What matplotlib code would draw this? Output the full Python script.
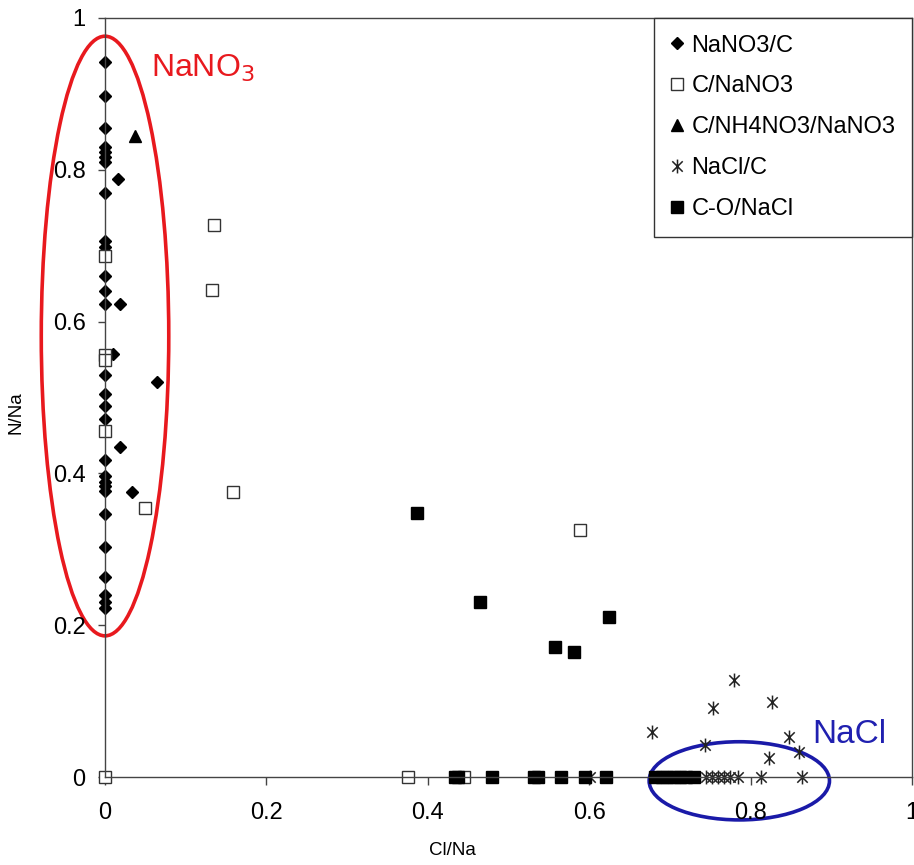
import matplotlib
matplotlib.use("Agg")
import matplotlib.pyplot as plt
from matplotlib.patches import Ellipse
from matplotlib.path import Path

plt.rcParams['font.family'] = ['Liberation Sans', 'DejaVu Sans']

# NaNO3/C (diamonds)
nano3_c_x = [0] * 29 + [0.016, 0.0185, 0.01, 0.064, 0.0185, 0.033]
nano3_c_y = [0.942, 0.897, 0.855, 0.830, 0.823, 0.817, 0.810, 0.770, 0.706,
             0.698, 0.660, 0.640, 0.623, 0.553, 0.529, 0.505, 0.489, 0.472,
             0.418, 0.397, 0.389, 0.384, 0.377, 0.346, 0.303, 0.264, 0.240,
             0.231, 0.223,
             0.788, 0.623, 0.557, 0.521, 0.435, 0.376]

# C/NaNO3 (open squares)
c_nano3_x = [0, 0, 0, 0, 0, 0.135, 0.133, 0.158, 0.05, 0.589, 0.375, 0.445]
c_nano3_y = [0.686, 0.556, 0.549, 0.456, 0, 0.727, 0.642, 0.376, 0.355, 0.326, 0, 0]

# C/NH4NO3/NaNO3 (triangle)
c_nh4_x = [0.037]
c_nh4_y = [0.844]

# NaCl/C (asterisks)
nacl_c_x = [0.780, 0.754, 0.827, 0.678, 0.847, 0.744, 0.860, 0.823,
            0.601, 0.745, 0.752, 0.760, 0.767, 0.775, 0.785, 0.813, 0.864]
nacl_c_y = [0.128, 0.091, 0.099, 0.059, 0.053, 0.042, 0.033, 0.025,
            0, 0, 0, 0, 0, 0, 0, 0, 0]

# C-O/NaCl (filled squares)
co_nacl_x = [0.387, 0.465, 0.558, 0.581, 0.625,
             0.434, 0.438, 0.480, 0.532, 0.537, 0.565, 0.595, 0.621,
             0.682, 0.690, 0.697, 0.705, 0.712, 0.720, 0.730]
co_nacl_y = [0.348, 0.231, 0.171, 0.165, 0.211] + [0] * 15

ticks = [0, 0.2, 0.4, 0.6, 0.8, 1]
tick_labels = ['0', '0.2', '0.4', '0.6', '0.8', '1']

# asterisk: vertical bar plus an x
star = Path([(0, -1), (0, 1), (-0.75, -0.75), (0.75, 0.75), (-0.75, 0.75), (0.75, -0.75)],
            [Path.MOVETO, Path.LINETO, Path.MOVETO, Path.LINETO, Path.MOVETO, Path.LINETO])

fig = plt.figure(figsize=(9.14, 8.65), dpi=100)
ax = fig.add_axes([0.1149, 0.1017, 0.8829, 0.8775])

kw = dict(linestyle='none', clip_on=False)
ax.plot(nano3_c_x, nano3_c_y, marker='D', ms=6.3, color='black', label='NaNO3/C', **kw)
ax.plot(c_nano3_x, c_nano3_y, marker='s', ms=8.3, mfc='white', mec='#333333', mew=1.0,
        label='C/NaNO3', **kw)
ax.plot(c_nh4_x, c_nh4_y, marker='^', ms=9, color='black', label='C/NH4NO3/NaNO3', **kw)
ax.plot(nacl_c_x, nacl_c_y, marker=star, ms=10, mec='#222222', mew=1.1, mfc='none',
        label='NaCl/C', **kw)
ax.plot(co_nacl_x, co_nacl_y, marker='s', ms=8.3, color='black', label='C-O/NaCl', **kw)

ax.add_patch(Ellipse((0, 0.581), 0.158, 0.79, fill=False, edgecolor='#e8191e',
                     lw=2.6, clip_on=False))
ax.add_patch(Ellipse((0.786, -0.005), 0.2235, 0.103, fill=False, edgecolor='#1a1aa8',
                     lw=2.6, clip_on=False))
ax.text(0.057, 0.923, 'NaNO$_3$', color='#e8191e', fontsize=23)
ax.text(0.877, 0.045, 'NaCl', color='#2020b0', fontsize=24)

ax.set_xlim(0, 1)
ax.set_ylim(0, 1)
ax.set_xticks(ticks)
ax.set_xticklabels(tick_labels)
ax.set_yticks(ticks)
ax.set_yticklabels(tick_labels)
ax.tick_params(axis='x', direction='out', length=6, width=1, labelsize=17, pad=12, color='#444444')
ax.tick_params(axis='y', direction='out', length=5, width=1, labelsize=17, pad=9, color='#444444')
for s in ax.spines.values():
    s.set_color('#444444')
    s.set_linewidth(1.0)

ax.set_xlabel('Cl/Na', fontsize=13.5)
ax.set_ylabel('N/Na', fontsize=13.5)
ax.xaxis.set_label_coords(0.43, -0.085)
ax.yaxis.set_label_coords(-0.1, 0.48)

leg = ax.legend(loc='upper right', borderaxespad=0, fontsize=17, numpoints=1,
                handlelength=0.6, handletextpad=0.3, labelspacing=0.8,
                borderpad=0.7, fancybox=False, framealpha=1)
leg.get_frame().set_edgecolor('#333333')
leg.get_frame().set_linewidth(1.0)

fig.savefig('out.png', dpi=100)
